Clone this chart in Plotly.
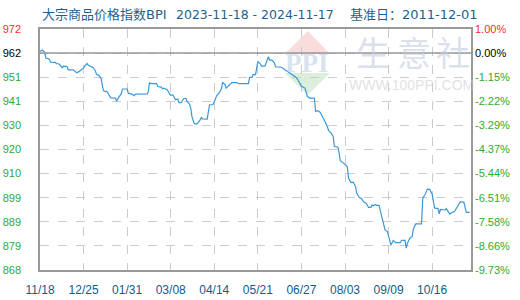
import pandas as pd
import plotly.graph_objects as go

start_date = "2023-11-18"
end_date = "2024-11-18"

# days since 2023-11-18 and index values
day_index = [0, 2, 4, 5, 8, 9, 13, 14, 16, 18, 19, 20, 23, 24, 28, 30, 31, 33, 35, 37,
             38, 40, 41, 43, 45, 47, 48, 50, 52, 53, 54, 57, 59, 60, 64, 65, 67, 69, 70, 74,
             75, 78, 80, 81, 91, 92, 93, 94, 99, 100, 103, 104, 105, 107, 108, 110, 111, 113, 114, 115,
             117, 118, 120, 121, 122, 124, 125, 127, 128, 129, 131, 133, 134, 136, 137, 138, 142, 143, 144, 147,
             149, 150, 152, 154, 155, 157, 158, 160, 161, 163, 167, 169, 177, 178, 180, 181, 183, 184, 185, 187,
             188, 191, 193, 194, 195, 197, 199, 200, 205, 208, 211, 214, 216, 217, 219, 221, 222, 225, 227, 229,
             233, 234, 236, 238, 240, 242, 244, 245, 247, 249, 250, 253, 254, 255, 258, 259, 261, 262, 264, 266,
             268, 269, 271, 273, 275, 277, 279, 281, 282, 283, 285, 286, 288, 289, 291, 293, 295, 297, 298, 300,
             302, 306, 307, 310, 311, 312, 314, 316, 317, 319, 324, 325, 327, 329, 331, 333, 335, 338, 339, 340,
             344, 345, 347, 348, 350, 352, 353, 355, 357, 360, 361, 362, 365]
bpi_values = [962.3, 962.9, 961.9, 959.5, 959.0, 957.7, 957.6, 957.0, 957.0, 955.6, 955.3, 956.0, 955.8, 954.4, 954.4, 953.7, 953.1, 953.6, 954.3, 955.2,
              956.1, 957.1, 956.3, 956.0, 955.4, 954.0, 952.4, 952.0, 950.5, 947.5, 945.3, 944.9, 942.9, 942.3, 942.2, 940.9, 942.6, 944.0, 946.1, 946.1,
              944.3, 943.9, 943.2, 943.9, 944.0, 945.0, 948.9, 948.4, 948.4, 947.2, 946.9, 946.2, 946.5, 945.8, 945.8, 944.0, 943.5, 943.5, 942.6, 941.5,
              941.8, 940.2, 940.2, 941.5, 942.0, 942.0, 940.6, 939.6, 937.9, 934.2, 931.2, 931.0, 931.4, 932.8, 933.8, 933.2, 933.1, 936.4, 939.2, 939.4,
              942.6, 943.2, 944.3, 946.1, 948.9, 948.2, 946.5, 947.5, 948.2, 948.9, 948.9, 948.4, 948.4, 951.1, 951.1, 952.3, 952.3, 955.0, 957.9, 957.1,
              956.0, 956.0, 958.9, 960.0, 958.6, 958.6, 957.4, 955.7, 955.5, 954.4, 953.4, 952.4, 951.7, 951.3, 950.1, 948.4, 947.3, 946.5, 942.9, 942.2,
              942.2, 936.4, 936.8, 936.0, 934.2, 932.1, 929.9, 928.2, 927.3, 925.6, 921.3, 921.0, 918.4, 915.2, 914.0, 913.4, 912.5, 907.6, 905.7, 905.9,
              904.0, 901.1, 899.4, 898.9, 897.3, 896.8, 895.0, 895.0, 896.1, 895.7, 896.3, 895.9, 895.9, 893.5, 888.9, 885.3, 884.6, 880.1, 878.8, 880.7,
              879.8, 879.8, 880.8, 880.8, 877.4, 879.5, 881.7, 882.4, 885.6, 887.9, 887.9, 899.0, 900.6, 902.9, 902.8, 900.8, 894.8, 894.5, 892.2, 894.1,
              893.9, 894.5, 893.1, 892.1, 892.9, 893.2, 894.1, 896.1, 897.5, 897.2, 894.7, 892.9, 892.9]

x_tick_dates = ["2023-11-18", "2023-12-25", "2024-01-31", "2024-03-08", "2024-04-14",
                "2024-05-21", "2024-06-27", "2024-08-03", "2024-09-09", "2024-10-16"]
x_tick_labels = ["11/18", "12/25", "01/31", "03/08", "04/14", "05/21", "06/27", "08/03", "09/09", "10/16"]

y_min, y_max = 868, 972
base_value = 961.6
y_tick_labels = ["972", "962", "951", "941", "930", "920", "910", "899", "889", "879", "868"]
pct_tick_labels = ["1.00%", "0.00%", "-1.15%", "-2.22%", "-3.29%", "-4.37%", "-5.44%",
                   "-6.51%", "-7.58%", "-8.66%", "-9.73%"]

title_parts = ["大宗商品价格指数BPI", "2023-11-18 - 2024-11-17", "基准日：2011-12-01"]

RED, BLACK, GREEN = "#ff2a2a", "#000000", "#2eaa2e"
n_ticks = len(y_tick_labels)
y_tick_vals = [y_max - i * (y_max - y_min) / (n_ticks - 1) for i in range(n_ticks)]
label_colors = [RED, BLACK] + [GREEN] * (n_ticks - 2)
left_text = [f'<span style="color:{c}">{t}</span>' for t, c in zip(y_tick_labels, label_colors)]
right_text = [f'<span style="color:{c}">{t}</span>' for t, c in zip(pct_tick_labels, label_colors)]

dates = pd.to_datetime(start_date) + pd.to_timedelta(day_index, unit="D")

fig = go.Figure()
fig.add_trace(go.Scatter(x=dates, y=bpi_values, mode="lines",
                         line=dict(color="#3a98d8", width=1.2), hoverinfo="x+y",
                         showlegend=False))
fig.add_trace(go.Scatter(x=[dates[0]], y=[bpi_values[0]], mode="markers",
                         marker=dict(opacity=0), yaxis="y2", hoverinfo="skip",
                         showlegend=False))

tick_font = dict(family="Liberation Sans, Arial, sans-serif", size=11)
TITLE_COLOR = "#1f5f8f"
title_annots = []
for txt, px, fam, sz in zip(title_parts, [40, 174, 348],
                            ["DejaVu Sans, Noto Sans CJK SC", "DejaVu Sans", "DejaVu Sans, Noto Sans CJK SC"],
                            [13, 12.5, 13]):
    title_annots.append(dict(text=txt, xref="paper", yref="paper",
                             x=(px - 40) / 431, y=1 + (29 - 15) / 241,
                             xanchor="left", yanchor="middle", showarrow=False,
                             font=dict(family=fam, size=sz, color=TITLE_COLOR)))

wm_color = "rgba(195,205,222,0.6)"
wm_annots = [
    dict(text="<b>PPI</b>", xref="paper", yref="paper", x=(307 - 40) / 431, y=(270 - 63) / 241,
         xanchor="center", yanchor="middle", showarrow=False,
         font=dict(family="Liberation Serif", size=27, color="rgba(170,190,220,0.45)")),
    dict(text="WWW.100PPI.COM", xref="paper", yref="paper", x=(411 - 40) / 431, y=(270 - 85) / 241,
         xanchor="center", yanchor="middle", showarrow=False,
         font=dict(family="Liberation Sans", size=14, color="rgba(200,200,205,0.55)")),
]
for ch, px in zip("生意社", [373, 414, 453]):
    wm_annots.append(dict(text=ch, xref="paper", yref="paper", x=(px - 40) / 431, y=(270 - 51) / 241,
                          xanchor="center", yanchor="middle", showarrow=False,
                          font=dict(family="Noto Sans CJK SC", size=34, color=wm_color)))

fig.update_layout(
    width=520, height=300,
    margin=dict(l=40, r=49, t=29, b=30, autoexpand=False),
    paper_bgcolor="white", plot_bgcolor="white",
    xaxis=dict(type="date", range=[start_date, end_date],
               tickvals=x_tick_dates, ticktext=x_tick_labels,
               tickfont=dict(family="Liberation Sans, Arial, sans-serif", size=12, color="#155a8a"),
               showgrid=True, gridcolor="#cccccc", griddash="dash", gridwidth=1,
               showline=True, linecolor="#999999", linewidth=1.5, mirror=True,
               ticks="", ticklabelstandoff=8, zeroline=False, automargin=False),
    yaxis=dict(range=[y_min, y_max], tickvals=y_tick_vals, ticktext=left_text,
               tickfont=tick_font,
               showgrid=True, gridcolor="#cccccc", griddash="dash", gridwidth=1,
               showline=True, linecolor="#999999", linewidth=1.5, mirror=True,
               ticks="", ticklabelstandoff=15, zeroline=False, automargin=False),
    yaxis2=dict(range=[y_min, y_max], tickvals=y_tick_vals, ticktext=right_text,
                tickfont=tick_font, overlaying="y", side="right",
                showgrid=False, showline=False, ticks="", ticklabelstandoff=3,
                zeroline=False, automargin=False),
    shapes=[
        dict(type="line", xref="paper", yref="y", x0=0, x1=1, y0=base_value, y1=base_value,
             line=dict(color="#999999", width=1.5), layer="above"),
        dict(type="path", xref="paper", yref="paper",
             path="M 0.568 0.896 L 0.673 0.896 L 0.621 0.992 Z",
             fillcolor="#f9dcdc", line=dict(width=0), layer="below"),
        dict(type="path", xref="paper", yref="paper",
             path="M 0.568 0.817 L 0.673 0.817 L 0.621 0.726 Z",
             fillcolor="#dcefdc", line=dict(width=0), layer="below"),
    ],
    annotations=title_annots + wm_annots,
)

fig.write_html("out.html")
